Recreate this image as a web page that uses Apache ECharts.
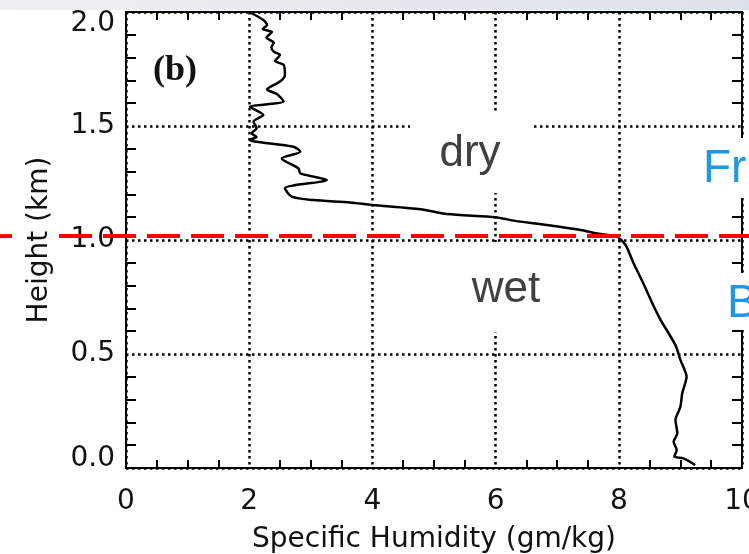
<!DOCTYPE html>
<html>
<head>
<meta charset="utf-8">
<script src="https://cdn.jsdelivr.net/npm/echarts@6/dist/echarts.min.js"></script>
<style>
html, body { margin: 0; padding: 0; background: #fff; }
#main { width: 749px; height: 554px; }
</style>
</head>
<body>
<div id="main"></div>
<script>
var chartDom = document.getElementById('main');
var myChart = echarts.init(chartDom);
var option;

// profile, from the top of the plot down to the ground
const humidity = [
    2.00, 2.23, 2.29, 2.22, 2.37, 2.28, 2.40, 2.36, 2.40, 2.50,
    2.42, 2.56, 2.58, 2.50, 2.29, 2.45, 2.56, 2.30, 2.01, 2.23,
    2.07, 2.12, 2.04, 2.12, 2.01, 2.12, 2.72, 2.83, 2.53, 2.80,
    2.83, 3.26, 2.58, 2.69, 3.04, 3.64, 3.99, 4.78, 5.21, 6.00,
    6.29, 6.83, 7.38, 7.70, 7.97, 8.11, 8.24, 8.41, 8.57, 8.68,
    8.92, 9.00, 9.10, 9.03, 9.00, 8.92, 8.95, 8.89, 8.94, 8.90,
    9.05, 9.24
];
const height = [
    2.000, 1.965, 1.943, 1.925, 1.912, 1.888, 1.865, 1.845, 1.826, 1.812,
    1.785, 1.768, 1.724, 1.695, 1.660, 1.640, 1.607, 1.595, 1.585, 1.548,
    1.519, 1.490, 1.468, 1.452, 1.439, 1.431, 1.409, 1.387, 1.358, 1.314,
    1.292, 1.263, 1.227, 1.190, 1.175, 1.165, 1.154, 1.135, 1.114, 1.100,
    1.085, 1.066, 1.044, 1.026, 1.015, 0.978, 0.898, 0.803, 0.707, 0.649,
    0.539, 0.474, 0.400, 0.328, 0.269, 0.210, 0.152, 0.115, 0.079, 0.050,
    0.042, 0.013
];

// height of the red dashed boundary line (km)
const boundaryHeight = 1.017;

const xTicks = [0, 2, 4, 6, 8, 10];
const yTicks = [0.0, 0.5, 1.0, 1.5, 2.0];

const font = 'DejaVu Sans';
const axisLine = { show: true, onZero: false, lineStyle: { color: '#000', width: 2 } };
const dotted = { show: true, lineStyle: { color: '#000', width: 2.5, type: [2.5, 3.5] } };

function xAxisOf(pos, withLabels) {
    return {
        type: 'value',
        position: pos,
        min: xTicks[0],
        max: xTicks[xTicks.length - 1],
        interval: 2,
        axisLine: axisLine,
        axisTick: { show: false, inside: true },
        minorTick: { show: true, splitNumber: 4, length: 8, lineStyle: { color: '#000', width: 2 } },
        splitLine: withLabels ? dotted : { show: false },
        axisLabel: {
            show: withLabels,
            margin: 20,
            fontSize: 28,
            fontFamily: font,
            color: '#111'
        },
        name: withLabels ? 'Specific Humidity (gm/kg)' : '',
        nameLocation: 'middle',
        nameGap: 58,
        nameTextStyle: { fontSize: 28, fontFamily: font, color: '#111' }
    };
}

function yAxisOf(pos, withLabels) {
    return {
        type: 'value',
        position: pos,
        min: yTicks[0],
        max: yTicks[yTicks.length - 1],
        interval: 0.5,
        axisLine: axisLine,
        axisTick: { show: false, inside: true },
        minorTick: { show: true, splitNumber: 5, length: 10, lineStyle: { color: '#000', width: 2 } },
        splitLine: withLabels ? dotted : { show: false },
        axisLabel: {
            show: withLabels,
            margin: 11,
            fontSize: 28,
            fontFamily: font,
            color: '#111',
            // end labels are kept inside the axis range, like the original
            formatter: function (v) {
                if (v === 2) return '{top|2.0}';
                if (v === 0) return '{bot|0.0}';
                return v.toFixed(1);
            },
            rich: {
                top: { fontSize: 28, fontFamily: font, color: '#111', padding: [24, 0, 0, 0] },
                bot: { fontSize: 28, fontFamily: font, color: '#111', padding: [0, 0, 18, 0] }
            }
        },
        name: withLabels ? 'Height (km)' : '',
        nameLocation: 'middle',
        nameRotate: 90,
        nameGap: 72,
        nameTextStyle: { fontSize: 28, fontFamily: font, color: '#111' }
    };
}

option = {
    animation: false,
    backgroundColor: '#fff',
    grid: { left: 126, right: 7, top: 12, bottom: 86, containLabel: false, outerBoundsMode: 'none' },
    xAxis: [xAxisOf('bottom', true), xAxisOf('top', false)],
    yAxis: [yAxisOf('left', true), yAxisOf('right', false)],
    series: [
        {
            type: 'line',
            xAxisIndex: 0,
            yAxisIndex: 0,
            z: 60,
            showSymbol: false,
            smooth: 0.25,
            lineStyle: { color: '#000', width: 2.5 },
            data: humidity.map((q, i) => [q, height[i]])
        }
    ]
};

myChart.setOption(option);

// slide decorations drawn over the plot
const yb = myChart.convertToPixel({ yAxisIndex: 0 }, boundaryHeight);
const blue = '#2196e2';

myChart.setOption({
    graphic: {
        elements: [
            {
                type: 'rect', z: 1,
                shape: { x: 0, y: 0, width: 749, height: 10 },
                style: {
                    fill: new echarts.graphic.LinearGradient(0, 0, 1, 0, [
                        { offset: 0, color: '#eef0f3' },
                        { offset: 1, color: '#dde2ea' }
                    ])
                }
            },
            // white boxes behind the overlaid words
            { type: 'rect', z: 50, shape: { x: 410, y: 113, width: 122, height: 80 }, style: { fill: '#fff' } },
            { type: 'rect', z: 50, shape: { x: 444, y: 242, width: 128, height: 90 }, style: { fill: '#fff' } },
            { type: 'rect', z: 50, shape: { x: 696, y: 138, width: 53, height: 60 }, style: { fill: '#fff' } },
            { type: 'rect', z: 50, shape: { x: 710, y: 273, width: 39, height: 57 }, style: { fill: '#fff' } },
            {
                type: 'text', z: 51, x: 470, y: 154,
                style: { text: 'dry', font: '44px "Liberation Sans"', fill: '#404040', align: 'center', verticalAlign: 'middle' }
            },
            {
                type: 'text', z: 51, x: 506, y: 290,
                style: { text: 'wet', font: '44px "Liberation Sans"', fill: '#404040', align: 'center', verticalAlign: 'middle' }
            },
            {
                type: 'text', z: 51, x: 703, y: 169,
                style: { text: 'Fr', font: '46px "Liberation Sans"', fill: blue, align: 'left', verticalAlign: 'middle' }
            },
            {
                type: 'text', z: 51, x: 727, y: 304,
                style: { text: 'B', font: '46px "Liberation Sans"', fill: blue, align: 'left', verticalAlign: 'middle' }
            },
            {
                type: 'text', z: 51, x: 153, y: 71,
                style: { text: '(b)', font: 'bold 36px "Liberation Serif"', fill: '#111', align: 'left', verticalAlign: 'middle' }
            },
            // red dashed boundary, broken where it passes the axis title
            {
                type: 'line', z: 100,
                shape: { x1: 0, y1: yb, x2: 12, y2: yb },
                style: { stroke: '#ff0000', lineWidth: 4 }
            },
            {
                type: 'line', z: 100,
                shape: { x1: 59, y1: yb, x2: 749, y2: yb },
                style: { stroke: '#ff0000', lineWidth: 4, lineDash: [33, 11] }
            }
        ]
    }
});
</script>
</body>
</html>
